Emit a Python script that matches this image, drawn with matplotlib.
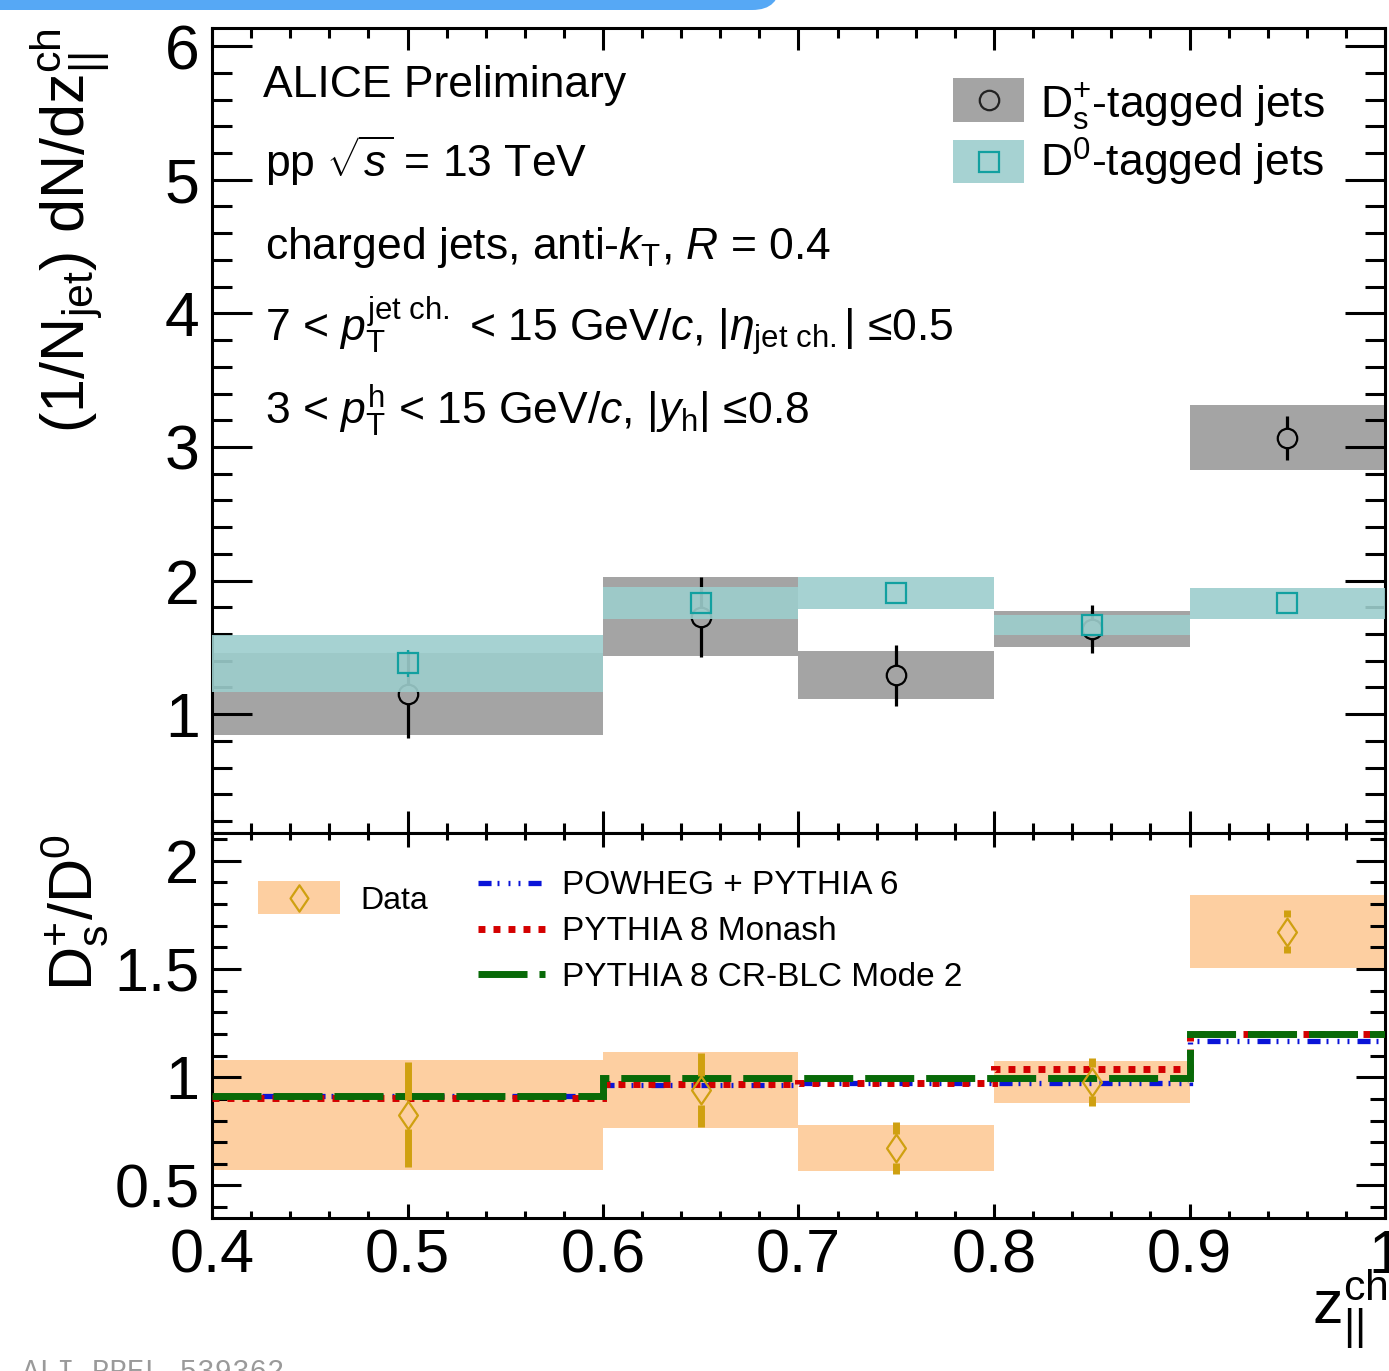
import numpy as np
import matplotlib
matplotlib.use('Agg')
import matplotlib.pyplot as plt
from matplotlib.patches import Rectangle, FancyBboxPatch
from matplotlib.lines import Line2D
from matplotlib.path import Path
from matplotlib.ticker import MultipleLocator, FuncFormatter

plt.rcParams['font.family'] = ['Liberation Sans', 'DejaVu Sans']
plt.rcParams['mathtext.fontset'] = 'custom'
plt.rcParams['mathtext.rm'] = 'Liberation Sans'
plt.rcParams['mathtext.it'] = 'Liberation Sans:italic'
plt.rcParams['mathtext.bf'] = 'Liberation Sans:bold'
plt.rcParams['mathtext.sf'] = 'Liberation Sans'
plt.rcParams['lines.scale_dashes'] = False

# ---------------- data ----------------
bin_edges = [0.4, 0.6, 0.7, 0.8, 0.9, 1.0]
bin_centers = [0.5, 0.65, 0.75, 0.85, 0.95]

ds_val = [1.15, 1.73, 1.29, 1.64, 3.07]
ds_stat = [0.33, 0.30, 0.23, 0.18, 0.165]
ds_sys = [0.305, 0.295, 0.18, 0.135, 0.245]

d0_val = [1.38, 1.83, 1.91, 1.67, 1.83]
d0_stat = [0.10, 0.05, 0.08, 0.05, 0.04]
d0_sys = [0.215, 0.12, 0.12, 0.075, 0.115]

ratio_val = [0.827, 0.94, 0.673, 0.98, 1.673]
ratio_stat = [0.243, 0.17, 0.121, 0.111, 0.101]
ratio_sys = [0.254, 0.176, 0.107, 0.097, 0.17]

powheg = [0.912, 0.966, 0.975, 0.975, 1.167]
monash = [0.906, 0.970, 0.975, 1.036, 1.198]
crblc = [0.912, 0.997, 0.997, 0.997, 1.198]

top_yticks = [1, 2, 3, 4, 5, 6]
ratio_yticks = [0.5, 1.0, 1.5, 2.0]
x_ticks = [0.4, 0.5, 0.6, 0.7, 0.8, 0.9, 1.0]

# ---------------- figure ----------------
W, H = 1389, 1371
fig = plt.figure(figsize=(W / 100, H / 100), dpi=100)

def X(px):
    return px / W

def Y(py):
    return 1 - py / H

GREY = '#a4a4a4'
TEAL_BOX = '#9dcecd'
TEAL = '#12a0a0'
ORANGE_BOX = '#fdcfa1'
GOLD = '#cfa010'

ax1 = fig.add_axes([X(212), Y(833), (1385 - 212) / W, (833 - 27.5) / H])
ax2 = fig.add_axes([X(212), Y(1217.5), (1385 - 212) / W, (1217.5 - 833) / H])

top_ylim = (0.11, 6.14)
rat_ylim = (0.352, 2.128)

edges = np.array(bin_edges)
widths = np.diff(edges)
lefts = edges[:-1]


def split_err(ax, x, y, err, gap, **kw):
    # error bar segments outside a hollow marker
    x = np.asarray(x); y = np.asarray(y); err = np.asarray(err)
    m = err > gap
    ax.vlines(x[m], (y - err)[m], (y - gap)[m], **kw)
    ax.vlines(x[m], (y + gap)[m], (y + err)[m], **kw)


# ---------- top panel ----------
ax1.bar(lefts, 2 * np.array(ds_sys), bottom=np.array(ds_val) - np.array(ds_sys),
        width=widths, align='edge', color=GREY, edgecolor='none', zorder=1)
gap_top = 9.5 / (806 / (top_ylim[1] - top_ylim[0]))
split_err(ax1, bin_centers, ds_val, ds_stat, gap_top, colors='black', linewidth=2.3, zorder=2)
ax1.plot(bin_centers, ds_val, linestyle='none', marker='o', markersize=14,
         markerfacecolor='none', markeredgecolor='black', markeredgewidth=1.6, zorder=2)
ax1.bar(lefts, 2 * np.array(d0_sys), bottom=np.array(d0_val) - np.array(d0_sys),
        width=widths, align='edge', color=TEAL_BOX, alpha=0.9, edgecolor='none', zorder=3)
gap_sq = 10.5 / (806 / (top_ylim[1] - top_ylim[0]))
split_err(ax1, bin_centers, d0_val, d0_stat, gap_sq, colors=TEAL, linewidth=1.6, zorder=4)
ax1.plot(bin_centers, d0_val, linestyle='none', marker='s', markersize=14,
         markerfacecolor='none', markeredgecolor=TEAL, markeredgewidth=1.6, zorder=4)

ax1.set_xlim(0.4, 1.0)
ax1.set_ylim(*top_ylim)
ax1.set_yticks(top_yticks)
ax1.yaxis.set_minor_locator(MultipleLocator(0.2))
ax1.set_xticks(x_ticks)
ax1.xaxis.set_minor_locator(MultipleLocator(0.02))
ax1.yaxis.set_major_formatter(FuncFormatter(lambda v, p: '%g' % v))
ax1.tick_params(axis='both', which='both', direction='in', top=True, right=True,
                labelbottom=False, width=2.2, labelsize=45)
ax1.tick_params(axis='x', which='major', length=15.8)
ax1.tick_params(axis='x', which='minor', length=7.2)
ax1.tick_params(axis='y', which='major', length=28.8, pad=9)
ax1.tick_params(axis='y', which='minor', length=14.4)

# ---------- ratio panel ----------
ax2.bar(lefts, 2 * np.array(ratio_sys), bottom=np.array(ratio_val) - np.array(ratio_sys),
        width=widths, align='edge', color=ORANGE_BOX, edgecolor='none', zorder=1)

blue_ls = (0, (9.4, 4.3, 1.4, 6.5, 1.4, 5.8, 1.4, 5.8))
red_ls = (0, (5.0, 5.8))
green_ls = (0, (35.3, 8.6))
ax2.stairs(powheg, edges, baseline=None, color='#0a14d8', linewidth=3.8, linestyle=blue_ls, zorder=2)
ax2.stairs(monash, edges, baseline=None, color='#d40000', linewidth=5.0, linestyle=red_ls, zorder=3)
ax2.stairs(crblc, edges, baseline=None, color='#086a08', linewidth=5.0, linestyle=green_ls, zorder=4)

thin_diamond = Path([(0, 1), (0.68, 0), (0, -1), (-0.68, 0), (0, 1)],
                    [Path.MOVETO, Path.LINETO, Path.LINETO, Path.LINETO, Path.CLOSEPOLY])
gap_rat = 14.5 / (384.5 / (rat_ylim[1] - rat_ylim[0]))
split_err(ax2, bin_centers, ratio_val, ratio_stat, gap_rat, colors=GOLD, linewidth=5.0, zorder=5)
ax2.plot(bin_centers, ratio_val, linestyle='none', marker=thin_diamond, markersize=20,
         markerfacecolor='none', markeredgecolor=GOLD, markeredgewidth=1.6, zorder=5)

ax2.set_xlim(0.4, 1.0)
ax2.set_ylim(*rat_ylim)
ax2.set_yticks(ratio_yticks)
ax2.yaxis.set_minor_locator(MultipleLocator(0.1))
ax2.set_xticks(x_ticks)
ax2.xaxis.set_minor_locator(MultipleLocator(0.02))
ax2.yaxis.set_major_formatter(FuncFormatter(lambda v, p: '%g' % v))
ax2.xaxis.set_major_formatter(FuncFormatter(lambda v, p: '%g' % v))
ax2.tick_params(axis='both', which='both', direction='in', top=True, right=True,
                width=2.2, labelsize=44)
ax2.tick_params(axis='x', which='major', length=10, pad=8)
ax2.tick_params(axis='x', which='minor', length=5)
ax2.tick_params(axis='y', which='major', length=21, pad=9)
ax2.tick_params(axis='y', which='minor', length=10.8)

for ax in (ax1, ax2):
    for s in ax.spines.values():
        s.set_linewidth(2.2)

# ---------- axis titles ----------
fig.text(X(70), Y(28), r'$(1/\mathrm{N}_{\mathrm{jet}})\ \mathrm{dN/dz}_{||}^{\mathrm{ch}}$',
         rotation=90, ha='center', va='top', fontsize=44)
fig.text(X(74), Y(834), r'$\mathrm{D}_{\mathrm{s}}^{+}/\mathrm{D}^{0}$',
         rotation=90, ha='center', va='top', fontsize=44)
fig.text(X(1388), Y(1268), r'$\mathrm{z}_{||}^{\mathrm{ch}}$', ha='right', va='top', fontsize=44)

# ---------- annotations ----------
fs = 32
fig.text(X(263), Y(97), 'ALICE Preliminary', fontsize=fs, va='baseline')
fig.text(X(265), Y(177), r'pp $\sqrt{s}$ = 13 TeV', fontsize=fs, va='baseline')
fig.text(X(265), Y(259), r'charged jets, anti-$k_{\mathrm{T}}$, $R$ = 0.4', fontsize=fs, va='baseline')
fig.text(X(265), Y(342), r'7 < $p_{\mathrm{T}}^{\mathrm{jet\ ch.}}$ < 15 GeV/$c$, |$\eta_{\mathrm{jet\ ch.}}$| ≤0.5',
         fontsize=fs, va='baseline')
fig.text(X(265), Y(424), r'3 < $p_{\mathrm{T}}^{\mathrm{h}}$ < 15 GeV/$c$, |$y_{\mathrm{h}}$| ≤0.8',
         fontsize=fs, va='baseline')

# ---------- top legend ----------
fig.add_artist(Rectangle((X(953), Y(122)), X(1024) - X(953), Y(78) - Y(122),
                         transform=fig.transFigure, facecolor=GREY, edgecolor='none'))
fig.add_artist(Rectangle((X(953), Y(183)), X(1024) - X(953), Y(140) - Y(183),
                         transform=fig.transFigure, facecolor=TEAL_BOX, alpha=0.9, edgecolor='none'))
fig.add_artist(Line2D([X(988.5)], [Y(100)], transform=fig.transFigure, linestyle='none',
                      marker='o', markersize=14, markerfacecolor='none',
                      markeredgecolor='#222222', markeredgewidth=1.6))
fig.add_artist(Line2D([X(988.5)], [Y(161.5)], transform=fig.transFigure, linestyle='none',
                      marker='s', markersize=14, markerfacecolor='none',
                      markeredgecolor=TEAL, markeredgewidth=1.6))
fig.text(X(1040), Y(117), r'$\mathrm{D}_{\mathrm{s}}^{+}$-tagged jets', fontsize=fs, va='baseline')
fig.text(X(1040), Y(177), r'$\mathrm{D}^{0}$-tagged jets', fontsize=fs, va='baseline')

# ---------- ratio legend ----------
fig.add_artist(Rectangle((X(258), Y(914)), X(340) - X(258), Y(881) - Y(914),
                         transform=fig.transFigure, facecolor=ORANGE_BOX, edgecolor='none'))
fig.add_artist(Line2D([X(299)], [Y(897.5)], transform=fig.transFigure, linestyle='none',
                      marker=thin_diamond, markersize=19, markerfacecolor='none',
                      markeredgecolor=GOLD, markeredgewidth=1.6))
fig.text(X(360), Y(909), 'Data', fontsize=23, va='baseline')

lfs = 24
model_rows = [
    ('POWHEG + PYTHIA 6', '#0a14d8', 3.8, blue_ls, 883, 894),
    ('PYTHIA 8 Monash', '#d40000', 5.0, red_ls, 929, 940),
    ('PYTHIA 8 CR-BLC Mode 2', '#086a08', 5.0, green_ls, 974, 986),
]
for label, col, lw, ls, ly, tb in model_rows:
    fig.add_artist(Line2D([X(478), X(545)], [Y(ly), Y(ly)], transform=fig.transFigure,
                          color=col, linewidth=lw, linestyle=ls))
    fig.text(X(562), Y(tb), label, fontsize=lfs, va='baseline')

# ---------- extras ----------
fig.text(X(22), Y(1380), 'ALI-PREL-539362', fontsize=21, family='Liberation Mono',
         color='#9a9a9a', va='baseline')
fig.add_artist(FancyBboxPatch((X(-40), Y(10)), X(780) - X(-40), 0.05,
                              boxstyle='round,pad=0,rounding_size=0.02',
                              transform=fig.transFigure, facecolor='#56a8f5',
                              edgecolor='none'))

fig.savefig('out.png', dpi=100)
